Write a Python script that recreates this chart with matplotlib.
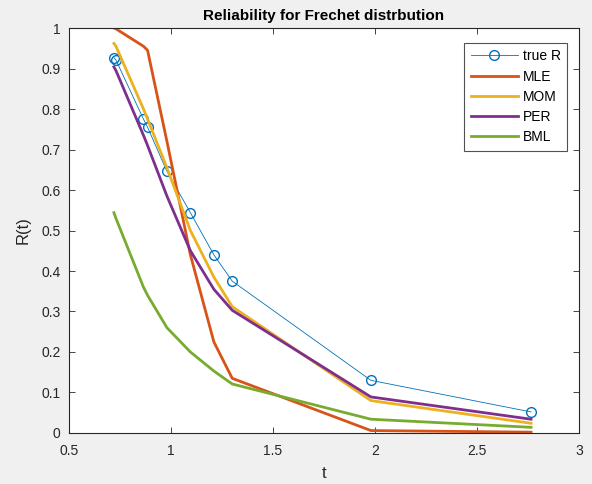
import matplotlib
matplotlib.use("Agg")
import matplotlib.pyplot as plt

plt.rcParams['font.family'] = ['Liberation Sans', 'DejaVu Sans']

# time points and reliability estimates
t = [0.72, 0.73, 0.865, 0.885, 0.98, 1.095, 1.21, 1.30, 1.98, 2.765]
r_true = [0.927, 0.921, 0.775, 0.755, 0.646, 0.544, 0.440, 0.375, 0.130, 0.052]
r_mle = [1.000, 0.998, 0.955, 0.945, 0.720, 0.440, 0.225, 0.135, 0.006, 0.002]
r_mom = [0.962, 0.955, 0.800, 0.775, 0.655, 0.500, 0.385, 0.312, 0.080, 0.024]
r_per = [0.904, 0.895, 0.735, 0.710, 0.585, 0.450, 0.355, 0.303, 0.089, 0.034]
r_bml = [0.544, 0.530, 0.360, 0.340, 0.260, 0.200, 0.153, 0.121, 0.034, 0.014]

series_names = ["true R", "MLE", "MOM", "PER", "BML"]
x_ticks = [0.5, 1, 1.5, 2, 2.5, 3]
y_ticks = [0, 0.1, 0.2, 0.3, 0.4, 0.5, 0.6, 0.7, 0.8, 0.9, 1]

fig = plt.figure(figsize=(5.92, 4.84), dpi=100, facecolor="#f0f0f0")
ax = fig.add_axes([0.1166, 0.1054, 0.8614, 0.8367])
ax.set_facecolor("white")

ax.plot(t, r_true, color="#0072BD", lw=0.6, marker="o", ms=7,
        mfc="none", mec="#0072BD", mew=1.0, label=series_names[0])
ax.plot(t, r_mle, color="#D95319", lw=2.0, label=series_names[1])
ax.plot(t, r_mom, color="#EDB120", lw=2.0, label=series_names[2])
ax.plot(t, r_per, color="#7E2F8E", lw=2.0, label=series_names[3])
ax.plot(t, r_bml, color="#77AC30", lw=2.0, label=series_names[4])

ax.set_xlim(0.5, 3)
ax.set_ylim(0, 1)
ax.set_xticks(x_ticks)
ax.set_xticklabels([f"{v:g}" for v in x_ticks])
ax.set_yticks(y_ticks)
ax.set_yticklabels([f"{v:g}" for v in y_ticks])

frame_color = "#262626"
for s in ax.spines.values():
    s.set_color(frame_color)
    s.set_linewidth(0.8)
ax.tick_params(direction="in", top=True, right=True, length=4, width=0.6,
               colors=frame_color, labelsize=10, labelcolor="#262626")
ax.tick_params(axis="x", pad=8)
ax.tick_params(axis="y", pad=6)

ax.set_title("Reliability for Frechet distrbution", fontsize=11,
             fontweight="bold", color="black", pad=6)
ax.set_xlabel("t", fontsize=12, color="#262626", labelpad=6)
ax.set_ylabel("R(t)", fontsize=12, color="#262626", labelpad=8)

leg = ax.legend(loc="upper right", bbox_to_anchor=(0.99, 0.98), fontsize=10,
                frameon=True, fancybox=False, handlelength=3.4,
                handletextpad=0.35, borderpad=0.45, labelspacing=0.45,
                edgecolor=frame_color)
leg.get_frame().set_linewidth(0.8)

fig.savefig("out.png", dpi=100, facecolor=fig.get_facecolor())
